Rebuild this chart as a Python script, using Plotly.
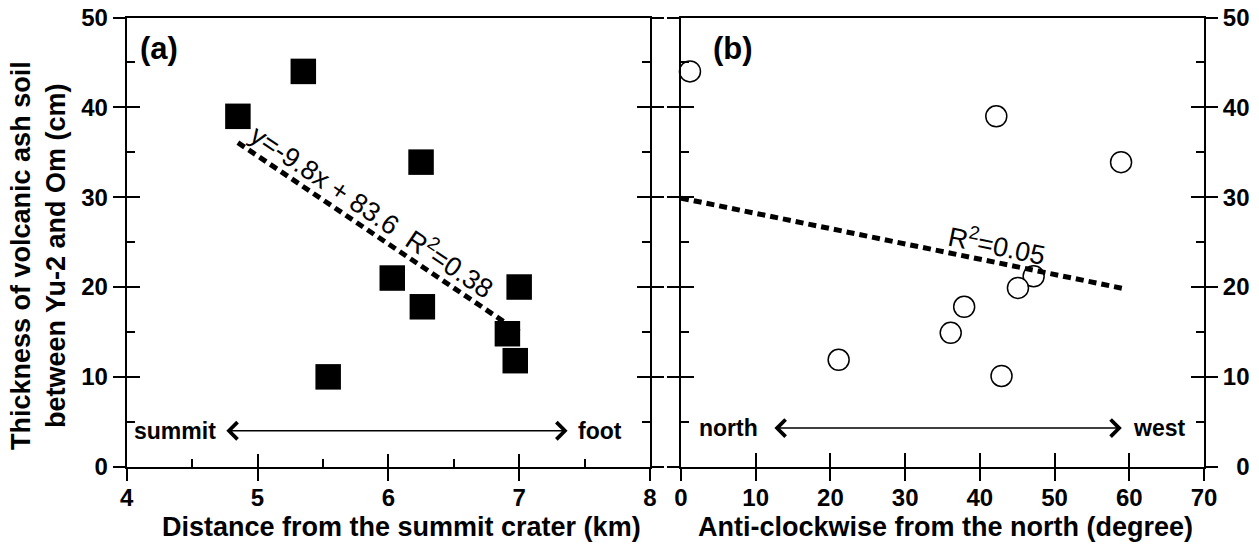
import plotly.graph_objects as go

# ---------------- data ----------------
# Panel (a): distance from the summit crater (km) vs thickness (cm)
dist_km = [4.85, 5.35, 6.25, 6.03, 6.26, 5.54, 7.00, 6.91, 6.97]
thick_a = [39.0, 44.0, 33.9, 21.0, 17.8, 10.0, 20.0, 14.8, 11.8]
# Panel (b): anti-clockwise angle from the north (degree) vs thickness (cm)
angle_deg = [1.2, 42.2, 58.9, 47.2, 45.1, 37.9, 36.1, 21.1, 42.9]
thick_b = [44.0, 39.0, 33.9, 21.2, 19.9, 17.8, 14.9, 11.9, 10.1]

# regression lines: [slope, intercept] and x extent
fit_a_coef = [-9.8, 83.6]
fit_a_x = [4.85, 7.0]
fit_b_coef = [-0.17, 29.9]
fit_b_x = [0.0, 59.0]

y_ticks = [0, 10, 20, 30, 40, 50]
y_ticktext_right = ["\u20070", "10", "20", "30", "40", "50"]

fit_a_y = [fit_a_coef[0] * v + fit_a_coef[1] for v in fit_a_x]
fit_b_y = [fit_b_coef[0] * v + fit_b_coef[1] for v in fit_b_x]

# ---------------- layout helpers ----------------
W, H = 1259, 548
FONT = "Liberation Sans, Arial, Helvetica, sans-serif"
xa_dom = [126.7 / W, 650.0 / W]
xb_dom = [681.0 / W, 1204.0 / W]
y_dom = [1 - 466.7 / H, 1 - 17.5 / H]

tickfont = dict(family=FONT, size=24, color="black", weight="bold")

base = dict(showgrid=False, zeroline=False, color="black", automargin=False)

fig = go.Figure()

fig.add_trace(go.Scatter(
    x=dist_km, y=thick_a, mode="markers", xaxis="x", yaxis="y",
    marker=dict(symbol="square", size=25.5, color="black", line=dict(width=0)),
    showlegend=False, cliponaxis=False))
fig.add_trace(go.Scatter(
    x=fit_a_x, y=fit_a_y, mode="lines", xaxis="x", yaxis="y",
    line=dict(color="black", width=5, dash="8px,5px"), showlegend=False))

fig.add_trace(go.Scatter(
    x=angle_deg, y=thick_b, mode="markers", xaxis="x2", yaxis="y2",
    marker=dict(symbol="circle", size=21, color="white",
                line=dict(color="black", width=1.5)),
    showlegend=False, cliponaxis=False))
fig.add_trace(go.Scatter(
    x=fit_b_x, y=fit_b_y, mode="lines", xaxis="x2", yaxis="y2",
    line=dict(color="black", width=5, dash="8px,5px"), showlegend=False))

# empty traces so the overlay (outside-tick) axes are drawn
for xa_, ya_ in [("x3", "y3"), ("x4", "y4")]:
    fig.add_trace(go.Scatter(x=[None], y=[None], xaxis=xa_, yaxis=ya_,
                             mode="markers", showlegend=False, hoverinfo="skip"))

inner = dict(showline=True, linewidth=2, linecolor="black", ticks="inside",
             ticklen=13, tickwidth=1.5, tickcolor="black",
             showticklabels=False, **base)
outer = dict(showline=False, ticks="outside", ticklen=13, tickwidth=1.5,
             tickcolor="black", showticklabels=True, tickfont=tickfont, **base)
minor_y = dict(ticks="inside", ticklen=8, tickwidth=1.5, tickcolor="black",
               dtick=5, showgrid=False)

fig.update_layout(
    width=W, height=H, margin=dict(l=0, r=0, t=0, b=0, autoexpand=False),
    paper_bgcolor="white", plot_bgcolor="white",
    # panel (a)
    xaxis=dict(domain=xa_dom, range=[4, 8], anchor="y", mirror=True,
               tick0=4, dtick=1,
               minor=dict(ticks="inside", ticklen=8, tickwidth=1.5,
                          tickcolor="black", dtick=0.5, showgrid=False),
               **inner),
    xaxis3=dict(overlaying="x", anchor="y", side="bottom", range=[4, 8],
                tick0=4, dtick=1, ticklabelstandoff=-4, **outer),
    yaxis=dict(domain=y_dom, range=[0, 50], anchor="x", mirror="ticks",
               tickvals=y_ticks, minor=minor_y, **inner),
    yaxis3=dict(overlaying="y", anchor="x", side="left", range=[0, 50],
                mirror="ticks", tickvals=y_ticks, **outer),
    # panel (b)
    xaxis2=dict(domain=xb_dom, range=[0, 70], anchor="y2", mirror=True,
                tick0=0, dtick=10, **{**inner, "ticklen": 14}),
    xaxis4=dict(overlaying="x2", anchor="y2", side="bottom", range=[0, 70],
                tick0=0, dtick=10, ticklabelstandoff=-4, **outer),
    yaxis2=dict(domain=y_dom, range=[0, 50], anchor="x2", side="right",
                mirror="ticks", tickvals=y_ticks, minor=minor_y, **inner),
    yaxis4=dict(overlaying="y2", anchor="x2", side="right", range=[0, 50],
                mirror="ticks", tickmode="array", tickvals=y_ticks,
                ticktext=y_ticktext_right, **outer),
)

bold = lambda s: dict(family=FONT, size=s, color="black", weight="bold")
plain = lambda s: dict(family=FONT, size=s, color="black")

ann = []
# panel labels
ann.append(dict(x=4.09, y=46.6, xref="x", yref="y", text="(a)", showarrow=False,
                xanchor="left", yanchor="middle", font=bold(31)))
ann.append(dict(x=4.0, y=46.6, xref="x2", yref="y2", text="(b)", showarrow=False,
                xanchor="left", yanchor="middle", font=bold(31)))
# direction arrows
ann.append(dict(x=7.37, y=4.0, ax=4.75, ay=4.0, xref="x", yref="y", axref="x",
                ayref="y", text="", showarrow=True, arrowside="end+start",
                arrowhead=4, startarrowhead=4, arrowsize=2.2, startarrowsize=2.2,
                arrowwidth=1.5, arrowcolor="black", standoff=0, startstandoff=0))
ann.append(dict(x=59.0, y=4.3, ax=12.3, ay=4.3, xref="x2", yref="y2", axref="x2",
                ayref="y2", text="", showarrow=True, arrowside="end+start",
                arrowhead=4, startarrowhead=4, arrowsize=2.2, startarrowsize=2.2,
                arrowwidth=1.5, arrowcolor="black", standoff=0, startstandoff=0))
ann.append(dict(x=4.70, y=4.0, xref="x", yref="y", text="summit", showarrow=False,
                xanchor="right", yanchor="middle", font=bold(23)))
ann.append(dict(x=7.435, y=4.0, xref="x", yref="y", text="foot", showarrow=False,
                xanchor="left", yanchor="middle", font=bold(23)))
ann.append(dict(x=2.14, y=4.3, xref="x2", yref="y2", text="north", showarrow=False,
                xanchor="left", yanchor="middle", font=bold(23)))
ann.append(dict(x=60.2, y=4.3, xref="x2", yref="y2", text="west", showarrow=False,
                xanchor="left", yanchor="middle", font=bold(23)))
# regression labels
ann.append(dict(x=5.88, y=28.6, xref="x", yref="y",
                text="y=-9.8x + 83.6\u00a0\u00a0R<sup>2</sup>=0.38",
                showarrow=False, textangle=34, font=plain(27)))
ann.append(dict(x=42.3, y=24.8, xref="x2", yref="y2",
                text="R<sup>2</sup>=0.05",
                showarrow=False, textangle=11.6, font=plain(27)))
# axis titles
ann.append(dict(x=401 / W, y=1 - 527 / H, xref="paper", yref="paper",
                text="Distance from the summit crater (km)", showarrow=False,
                xanchor="center", yanchor="middle", font=bold(27)))
ann.append(dict(x=945 / W, y=1 - 527 / H, xref="paper", yref="paper",
                text="Anti-clockwise from the north (degree)", showarrow=False,
                xanchor="center", yanchor="middle", font=bold(27)))
ann.append(dict(x=38 / W, y=1 - 256 / H, xref="paper", yref="paper",
                text="Thickness of volcanic ash soil<br>between Yu-2 and Om (cm)",
                showarrow=False, textangle=-90, xanchor="center",
                yanchor="middle", font=bold(27)))
fig.update_layout(annotations=ann)

fig.write_html("out.html")
